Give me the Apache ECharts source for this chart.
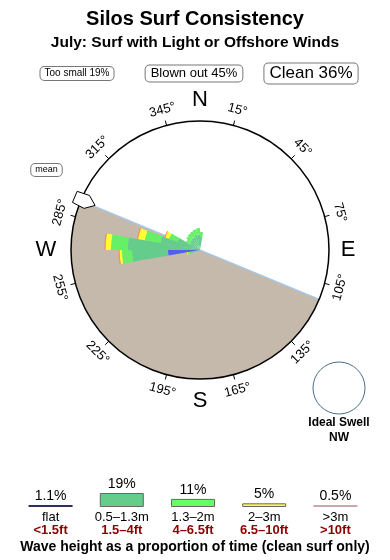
<!DOCTYPE html>
<html><head><meta charset="utf-8">
<script src="https://cdn.jsdelivr.net/npm/echarts@6/dist/echarts.min.js"></script>
<style>html,body{margin:0;padding:0;background:#fff}#c{width:390px;height:560px}</style>
</head><body><div id="c"></div>
<script>
// ---- data ----
// start bearing (deg) of each 10° direction bin that has surf
const directionBins = [0, 250, 260, 270, 280, 290, 300, 310, 320, 330, 340, 350];
// radial length of each wave-height band per bin (circle radius = 100)
const flatBand = [0, 0, 24.8, 3, 1, 0.5, 0, 0, 0, 0, 0, 0];
const band05_13 = [10, 7.5, 27.9, 53, 30, 18, 9, 10, 10.5, 11, 12, 12];
const band13_2 = [4, 2, 7.8, 13, 12.4, 7, 3.4, 4, 4.2, 4.5, 4.3, 5];
const band2_3 = [0, 1, 1.9, 4.3, 5.4, 3.1, 0, 0, 0, 0, 0, 0];
const band3p = [0, 0.4, 0.8, 0.8, 0.8, 0.8, 0, 0, 0, 0, 0, 0];
const bandNames = ['flat', '0.5–1.3m', '1.3–2m', '2–3m', '>3m'];
const bandFeet = ['<1.5ft', '1.5–4ft', '4–6.5ft', '6.5–10ft', '>10ft'];
const bandPercent = [1.1, 19, 11, 5, 0.5];
const summaryNames = ['Too small', 'Blown out', 'Clean'];
const summaryPercent = [19, 45, 36];
const compassTicks = [15, 45, 75, 105, 135, 165, 195, 225, 255, 285, 315, 345];
const cardinalNames = ['N', 'E', 'S', 'W'];
const cardinalBearings = [0, 90, 180, 270];
const coastBearing = 292.5;   // shoreline direction (land lies clockwise to 112.5)
const meanBearing = 293;
const idealSwell = 'NW';

// ---- build ----
const FONT = 'Liberation Sans, Arial, sans-serif';
const CX = 200, CY = 250, R = 129;
const angleCats = [];
for (let i = 0; i < 36; i++) angleCats.push(String(i * 10));
function full(arr) {
  const out = new Array(36).fill(0);
  directionBins.forEach((b, i) => { out[Math.round(b / 10) % 36] = arr[i]; });
  return out;
}
const roseColors = ['#5a5af0', '#64cd8c', '#66f066', '#ffff33', '#ff8c3c'];
const roseData = [flatBand, band05_13, band13_2, band2_3, band3p];
function pt(b, r, t) {
  const a = b * Math.PI / 180;
  t = t || 0;
  return [CX + r * Math.sin(a) + t * Math.cos(a), CY - r * Math.cos(a) + t * Math.sin(a)];
}
const rad = d => d * Math.PI / 180;
const graphics = [];
// background disc and land
graphics.push({type: 'circle', z: 0, shape: {cx: CX, cy: CY, r: R}, style: {fill: '#fff'}});
graphics.push({type: 'sector', z: 0, shape: {cx: CX, cy: CY, r: R, r0: 0,
  startAngle: rad(coastBearing - 180 - 90), endAngle: rad(coastBearing - 90), clockwise: true},
  style: {fill: '#c5b9ac'}});
const c1 = pt(coastBearing, R), c2 = pt(coastBearing - 180, R);
graphics.push({type: 'line', z: 1, shape: {x1: c1[0], y1: c1[1], x2: c2[0], y2: c2[1]},
  style: {stroke: '#a6c8e8', lineWidth: 1.5}});
// outline
graphics.push({type: 'circle', z: 10, shape: {cx: CX, cy: CY, r: R}, style: {fill: null, stroke: '#000', lineWidth: 1.5}});
// ticks and labels
compassTicks.forEach(b => {
  const p1 = pt(b, R), p2 = pt(b, R + 5);
  graphics.push({type: 'line', z: 10, shape: {x1: p1[0], y1: p1[1], x2: p2[0], y2: p2[1]}, style: {stroke: '#000', lineWidth: 1}});
  let rot = -b;
  while (rot <= -90) rot += 180;
  while (rot > 90) rot -= 180;
  const p = pt(b, 145);
  graphics.push({type: 'text', z: 10, x: p[0], y: p[1], rotation: rad(rot),
    style: {text: b + '°', x: 0, y: 0, align: 'center', verticalAlign: 'middle', font: '13px ' + FONT, fill: '#000'}});
});
const cardR = [150, 148, 151, 154];
cardinalNames.forEach((n, i) => {
  const p = pt(cardinalBearings[i], cardR[i]);
  graphics.push({type: 'text', z: 10, x: p[0], y: p[1],
    style: {text: n, x: 0, y: 0, align: 'center', verticalAlign: 'middle', font: '22px ' + FONT, fill: '#000'}});
});
// mean arrow
const arrowPts = [[114, 0], [123, 7], [136, 6], [136, -6], [123, -7]].map(q => pt(meanBearing, q[0], q[1]));
graphics.push({type: 'polygon', z: 11, shape: {points: arrowPts}, style: {fill: '#fff', stroke: '#000', lineWidth: 1}});
graphics.push({type: 'text', z: 10, x: 46.5, y: 170,
  style: {text: 'mean', x: 0, y: 0, align: 'center', verticalAlign: 'middle', font: '9px ' + FONT, fill: '#000',
    borderColor: '#777', borderWidth: 1, borderRadius: 4, padding: [2, 4, 1, 4], backgroundColor: '#fff'}});
// titles
graphics.push({type: 'text', z: 10, x: 195, y: 19, style: {text: 'Silos Surf Consistency', x: 0, y: 0, align: 'center', verticalAlign: 'middle', font: 'bold 20px ' + FONT, fill: '#000'}});
graphics.push({type: 'text', z: 10, x: 195, y: 43, style: {text: 'July: Surf with Light or Offshore Winds', x: 0, y: 0, align: 'center', verticalAlign: 'middle', font: 'bold 15.5px ' + FONT, fill: '#000'}});
// summary boxes
const boxX = [77, 194, 311], boxFont = [10, 13, 17], boxPad = [[2, 4, 1, 4], [2, 5, 1, 5], [2, 5, 1, 5]];
summaryNames.forEach((n, i) => {
  graphics.push({type: 'text', z: 10, x: boxX[i], y: 73.5,
    style: {text: n + ' ' + summaryPercent[i] + '%', x: 0, y: 0, align: 'center', verticalAlign: 'middle',
      font: boxFont[i] + 'px ' + FONT, fill: '#000', borderColor: '#777', borderWidth: 1, borderRadius: 4,
      padding: boxPad[i], backgroundColor: '#fff'}});
});
// ideal swell
graphics.push({type: 'circle', z: 10, shape: {cx: 339, cy: 388, r: 26}, style: {fill: '#fff', stroke: '#4d6d8d', lineWidth: 1}});
graphics.push({type: 'text', z: 10, x: 339, y: 423, style: {text: 'Ideal Swell', x: 0, y: 0, align: 'center', verticalAlign: 'middle', font: 'bold 12px ' + FONT, fill: '#000'}});
graphics.push({type: 'text', z: 10, x: 339, y: 438, style: {text: idealSwell, x: 0, y: 0, align: 'center', verticalAlign: 'middle', font: 'bold 12px ' + FONT, fill: '#000'}});
// footer
graphics.push({type: 'text', z: 10, x: 195, y: 547, style: {text: 'Wave height as a proportion of time (clean surf only)', x: 0, y: 0, align: 'center', verticalAlign: 'middle', font: 'bold 14px ' + FONT, fill: '#000'}});

const legendStyles = [
  {color: '#2e2e66', borderWidth: 0},
  {color: '#64cd8c', borderColor: '#666', borderWidth: 1},
  {color: '#66ff66', borderColor: '#666', borderWidth: 1},
  {color: '#ffff44', borderColor: '#666', borderWidth: 1},
  {color: '#c9a9a9', borderWidth: 0}
];

const series = roseData.map((arr, i) => ({
  type: 'bar', coordinateSystem: 'polar', stack: 'rose', name: bandNames[i],
  data: full(arr), barCategoryGap: '0%', z: 5,
  itemStyle: {color: roseColors[i]}, silent: true
}));
series.push({
  type: 'bar', xAxisIndex: 0, yAxisIndex: 0, barWidth: 44, barMinHeight: 2,
  data: bandPercent.map((v, i) => ({value: v, itemStyle: legendStyles[i]})),
  label: {show: true, position: 'top', distance: 2, formatter: p => p.value + '%', fontSize: 14, fontFamily: FONT, color: '#000'}
});

const chart = echarts.init(document.getElementById('c'), null, {renderer: 'canvas'});
chart.setOption({
  animation: false,
  backgroundColor: '#fff',
  polar: {center: [CX, CY], radius: R},
  angleAxis: {type: 'category', data: angleCats, startAngle: 90, clockwise: true,
    axisLine: {show: false}, axisTick: {show: false}, axisLabel: {show: false}, splitLine: {show: false}, z: 0},
  radiusAxis: {type: 'value', min: 0, max: 100, axisLine: {show: false}, axisTick: {show: false}, axisLabel: {show: false}, splitLine: {show: false}},
  grid: {left: 15, right: 19, top: 479, bottom: 53},
  xAxis: {type: 'category', data: bandNames, axisLine: {show: false}, axisTick: {show: false},
    axisLabel: {margin: 4, interval: 0, formatter: (v, i) => '{a|' + v + '}\n{b|' + bandFeet[i] + '}',
      rich: {a: {fontSize: 13, fontFamily: FONT, color: '#000', lineHeight: 13},
             b: {fontSize: 13, fontFamily: FONT, color: '#8b0000', fontWeight: 'bold', lineHeight: 13}}}},
  yAxis: {type: 'value', min: 0, max: 38, show: false},
  graphic: {elements: graphics},
  series: series
});
</script></body></html>
